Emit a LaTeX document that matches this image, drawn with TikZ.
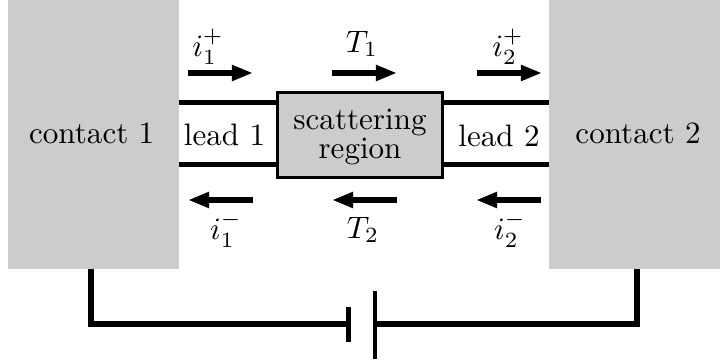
\documentclass[tikz,border=0pt]{standalone}
\usepackage{amsmath, amssymb}
\usetikzlibrary{positioning, arrows.meta}
\definecolor{padgray}{gray}{0.8}

\begin{document}
\begin{tikzpicture}[x=0.322pt, y=0.322pt, >={Triangle[length=6.8pt, width=4.8pt]},
    contact/.style={fill=padgray, minimum width=55.06pt, minimum height=86.62pt, inner sep=0pt},
    flow/.style={->, line width=1.8pt},
    wire/.style={line width=1.8pt},
    plate/.style={line width=1.6pt}]
  \useasboundingbox (0,0) rectangle (727,364);
  % Contacts and scattering region
  \node[contact] (contact1) at (93.5,229.5) {};
  \node[contact] (contact2) at (634.5,229.5) {};
  \node (name1) at (91.7,230.5) {contact 1};
  \node (name2) at (638,230.5) {contact 2};
  \node[draw, fill=padgray, line width=1pt, minimum width=53pt, minimum height=27.4pt] (region) at (360,229) {};
  \node[align=center, inner sep=0pt] (regtext) at (360,227) {scattering\\[-2.8pt]region};
  \node (lead1) at (224.5,229.5) {lead 1};
  \node (lead2) at (499,228.5) {lead 2};
  % Leads
  \foreach \y/\i in {261.5/t, 199.5/b}{
    \coordinate (l\i1) at (179,\y); \coordinate (r\i1) at (277,\y);
    \coordinate (l\i2) at (443,\y); \coordinate (r\i2) at (549,\y);
    \draw[wire] (l\i1)--(r\i1);
    \draw[wire] (l\i2)--(r\i2);
  }
  % Fluxes above
  \foreach \x/\lx/\ly/\t/\a in {188/208/317/{$i_1^+$}/p, 332/362/320/{$T_1$}/q, 477/508/317/{$i_2^+$}/s}{
    \coordinate (\a s) at (\x,291);
    \coordinate (\a e) at (\x+65,291);
    \draw[flow] (\a s)--(\a e);
    \node (\a t) at (\lx,\ly) {\t};
  }
  % Fluxes below
  \foreach \x/\lx/\ly/\t/\a in {253/226/134/{$i_1^-$}/u, 397/363/134/{$T_2$}/v, 541/510/134/{$i_2^-$}/w}{
    \coordinate (\a s) at (\x,164);
    \coordinate (\a e) at (\x-65,164);
    \draw[flow] (\a s)--(\a e);
    \node (\a t) at (\lx,\ly) {\t};
  }
  % Battery
  \coordinate (wa) at (91,95); \coordinate (wb) at (91,40);
  \coordinate (wc) at (637,95); \coordinate (wd) at (637,40);
  \coordinate (pa) at (348.5,57); \coordinate (pb) at (348.5,40); \coordinate (pc) at (348.5,21.5);
  \coordinate (qa) at (375,73); \coordinate (qb) at (375,40); \coordinate (qc) at (375,4.5);
  \draw[wire] (wa)--(wb)--(pb);
  \draw[wire] (wc)--(wd)--(qb);
  \draw[plate] (pa)--(pc);
  \draw[plate] (qa)--(qc);
\end{tikzpicture}
\end{document}
